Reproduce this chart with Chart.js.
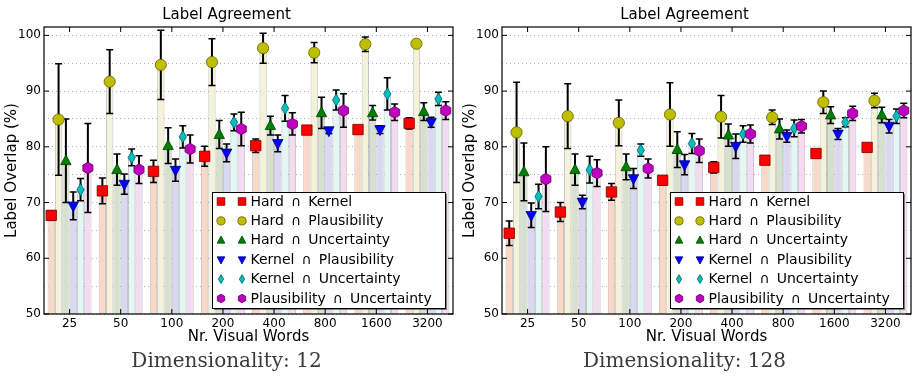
<!DOCTYPE html>
<html>
<head>
<meta charset="utf-8">
<script src="https://cdn.jsdelivr.net/npm/chart.js@4.4.0/dist/chart.umd.min.js"></script>
<style>
  html, body { margin: 0; padding: 0; background: #fff; }
  #wrap { display: flex; width: 916px; height: 379px; }
  .panel { position: relative; width: 458px; height: 379px; }
</style>
</head>
<body>
<div id="wrap">
  <div class="panel"><canvas id="c12"></canvas></div>
  <div class="panel"><canvas id="c128"></canvas></div>
</div>
<script>
// categories / tick labels
const categories = ['25', '50', '100', '200', '400', '800', '1600', '3200'];
const seriesNames = [
  'Hard\u2002\u2229\u2002Kernel',
  'Hard\u2002\u2229\u2002Plausibility',
  'Hard\u2002\u2229\u2002Uncertainty',
  'Kernel\u2002\u2229\u2002Plausibility',
  'Kernel\u2002\u2229\u2002Uncertainty',
  'Plausibility\u2002\u2229\u2002Uncertainty'
];
const yTicks = [50, 55, 60, 65, 70, 75, 80, 85, 90, 95, 100];

// Dimensionality 12 : means and errors
const hardKernel12 = [67.7, 72.1, 75.6, 78.3, 80.2, 83.0, 83.1, 84.2];
const hardKernel12Err = [0.8, 2.3, 2.0, 1.8, 1.2, 0.6, 0.0, 1.0];
const hardPlaus12 = [84.9, 91.7, 94.7, 95.2, 97.7, 96.9, 98.4, 98.5];
const hardPlaus12Err = [10.0, 5.7, 6.2, 4.2, 2.7, 1.8, 1.3, 0.6];
const hardUnc12 = [77.5, 75.9, 80.2, 82.2, 83.8, 86.1, 86.1, 86.3];
const hardUnc12Err = [7.5, 2.8, 3.2, 2.5, 1.7, 2.8, 1.3, 1.6];
const kernelPlaus12 = [69.4, 73.3, 75.8, 78.9, 80.6, 82.9, 83.1, 84.4];
const kernelPlaus12Err = [2.5, 1.8, 2.0, 1.6, 1.5, 0.5, 0.7, 0.9];
const kernelUnc12 = [72.3, 78.1, 81.8, 84.4, 86.9, 88.4, 89.5, 88.6];
const kernelUnc12Err = [2.0, 1.5, 2.0, 1.5, 2.3, 1.8, 2.9, 1.2];
const plausUnc12 = [76.2, 75.9, 79.6, 83.2, 84.1, 86.5, 86.2, 86.5];
const plausUnc12Err = [8.0, 2.5, 2.5, 3.0, 2.0, 3.0, 1.5, 1.6];

// Dimensionality 128 : means and errors
const hardKernel128 = [64.5, 68.3, 71.9, 74.0, 76.3, 77.6, 78.8, 79.9];
const hardKernel128Err = [2.2, 1.7, 1.5, 0.8, 1.0, 0.5, 0.6, 0.6];
const hardPlaus128 = [82.6, 85.5, 84.3, 85.8, 85.4, 85.3, 88.0, 88.3];
const hardPlaus128Err = [9.0, 5.8, 4.1, 5.7, 3.8, 1.3, 2.0, 1.3];
const hardUnc128 = [75.5, 75.9, 76.4, 79.5, 82.1, 83.2, 85.7, 85.7];
const hardUnc128Err = [5.2, 2.8, 2.3, 3.2, 2.0, 1.8, 1.5, 1.4];
const kernelPlaus128 = [67.7, 70.1, 74.3, 76.8, 80.1, 81.9, 82.3, 83.7];
const kernelPlaus128Err = [2.2, 1.2, 1.8, 1.8, 2.2, 1.1, 1.0, 1.2];
const kernelUnc128 = [71.1, 75.9, 79.4, 80.6, 82.3, 83.3, 84.4, 85.5];
const kernelUnc128Err = [2.2, 2.4, 1.1, 1.8, 1.5, 1.5, 0.8, 1.3];
const plausUnc128 = [74.2, 75.3, 76.1, 79.3, 82.3, 83.7, 86.0, 86.5];
const plausUnc128Err = [5.8, 2.4, 1.7, 2.1, 1.6, 1.2, 1.3, 1.3];

const barColors = ['#fbd8c6', '#f4f3da', '#d6e0cf', '#d9d8f3', '#e3f7f5', '#f3dcf1'];
const markerColors = ['#ff0000', '#bfbf00', '#008000', '#0000ff', '#00bfbf', '#bf00bf'];
const markerEdges = ['#7a0000', '#5f5f00', '#004000', '#00007a', '#005f5f', '#5f005f'];
const markerShapes = ['square', 'circle', 'triangle', 'triangleDown', 'diamond', 'hexagon'];

const FONT = 'DejaVu Sans';

function drawMarker(ctx, shape, x, y, s, fill, edge) {
  ctx.save();
  ctx.beginPath();
  if (shape === 'square') {
    ctx.rect(x - s, y - s, 2 * s, 2 * s);
  } else if (shape === 'circle') {
    ctx.arc(x, y, s * 1.08, 0, Math.PI * 2);
  } else if (shape === 'triangle') {
    ctx.moveTo(x, y - s * 1.15);
    ctx.lineTo(x + s, y + s * 0.75);
    ctx.lineTo(x - s, y + s * 0.75);
    ctx.closePath();
  } else if (shape === 'triangleDown') {
    ctx.moveTo(x, y + s * 1.15);
    ctx.lineTo(x + s, y - s * 0.75);
    ctx.lineTo(x - s, y - s * 0.75);
    ctx.closePath();
  } else if (shape === 'diamond') {
    ctx.moveTo(x, y - s * 1.15);
    ctx.lineTo(x + s * 0.7, y);
    ctx.lineTo(x, y + s * 1.15);
    ctx.lineTo(x - s * 0.7, y);
    ctx.closePath();
  } else if (shape === 'hexagon') {
    for (let k = 0; k < 6; k++) {
      const a = -Math.PI / 2 + k * Math.PI / 3;
      const px = x + s * 1.12 * Math.cos(a), py = y + s * 1.12 * Math.sin(a);
      if (k === 0) ctx.moveTo(px, py); else ctx.lineTo(px, py);
    }
    ctx.closePath();
  }
  ctx.fillStyle = fill;
  ctx.fill();
  ctx.lineWidth = 0.8;
  ctx.strokeStyle = edge;
  ctx.stroke();
  ctx.restore();
}

const overlayPlugin = {
  id: 'overlay',
  afterDatasetsDraw(chart) {
    const ctx = chart.ctx;
    const y = chart.scales.y;
    const x = chart.scales.x;
    const area = chart.chartArea;

    // error bars
    chart.data.datasets.forEach((ds, i) => {
      const meta = chart.getDatasetMeta(i);
      meta.data.forEach((bar, j) => {
        const v = ds.data[j], e = ds.errors[j];
        if (!e) return;
        const top = y.getPixelForValue(v + e), bot = y.getPixelForValue(v - e);
        ctx.save();
        ctx.strokeStyle = '#000';
        ctx.lineWidth = 2;
        ctx.beginPath();
        ctx.moveTo(bar.x, top); ctx.lineTo(bar.x, bot);
        ctx.stroke();
        ctx.lineWidth = 1.5;
        ctx.beginPath();
        ctx.moveTo(bar.x - 3.5, top); ctx.lineTo(bar.x + 3.5, top);
        ctx.moveTo(bar.x - 3.5, bot); ctx.lineTo(bar.x + 3.5, bot);
        ctx.stroke();
        ctx.restore();
      });
    });
    // markers
    chart.data.datasets.forEach((ds, i) => {
      const meta = chart.getDatasetMeta(i);
      meta.data.forEach((bar, j) => {
        drawMarker(ctx, markerShapes[i], bar.x, y.getPixelForValue(ds.data[j]), 5.2, markerColors[i], markerEdges[i]);
      });
    });

    // frame and inward ticks
    ctx.save();
    ctx.strokeStyle = '#000';
    ctx.lineWidth = 1.2;
    ctx.strokeRect(area.left, area.top, area.right - area.left, area.bottom - area.top);
    ctx.lineWidth = 1;
    ctx.beginPath();
    yTicks.forEach(t => {
      const py = y.getPixelForValue(t);
      const len = t % 10 === 0 ? 5 : 0;
      ctx.moveTo(area.left, py); ctx.lineTo(area.left + len, py);
      ctx.moveTo(area.right, py); ctx.lineTo(area.right - len, py);
    });
    categories.forEach((c, j) => {
      const px = x.getPixelForValue(j);
      ctx.moveTo(px, area.top); ctx.lineTo(px, area.top + 5);
      ctx.moveTo(px, area.bottom); ctx.lineTo(px, area.bottom - 5);
    });
    ctx.stroke();
    ctx.restore();
  },
  afterDraw(chart) {
    const ctx = chart.ctx;
    const area = chart.chartArea;
    const w = 233, h = 116;
    const right = area.right - 8, bottom = area.bottom - 6;
    const left = right - w, top = bottom - h;
    ctx.save();
    ctx.fillStyle = 'rgba(0,0,0,0.45)';
    ctx.fillRect(left + 2, top + 2, w, h);
    ctx.fillStyle = '#fff';
    ctx.fillRect(left, top, w, h);
    ctx.strokeStyle = '#000';
    ctx.lineWidth = 1;
    ctx.strokeRect(left + 0.5, top + 0.5, w, h);
    ctx.font = '14px "' + FONT + '"';
    ctx.textBaseline = 'middle';
    ctx.fillStyle = '#000';
    chart.data.datasets.forEach((ds, i) => {
      const cy = top + 9.5 + i * 19.4;
      drawMarker(ctx, markerShapes[i], left + 9, cy, 3.8, markerColors[i], markerEdges[i]);
      drawMarker(ctx, markerShapes[i], left + 30, cy, 3.8, markerColors[i], markerEdges[i]);
      ctx.fillText(ds.label, left + 38.5, cy + 0.5);
    });
    ctx.restore();
  }
};

function makePanel(id, means, errs, subtitle) {
  new Chart(document.getElementById(id), {
    type: 'bar',
    data: {
      labels: categories,
      datasets: means.map((m, i) => ({
        label: seriesNames[i],
        data: m,
        errors: errs[i],
        backgroundColor: barColors[i],
        borderColor: 'rgba(140,140,140,0.5)',
        borderWidth: 1,
        borderSkipped: 'bottom'
      }))
    },
    options: {
      responsive: true,
      maintainAspectRatio: false,
      animation: false,
      datasets: { bar: { categoryPercentage: 0.86, barPercentage: 1.0 } },
      layout: { padding: { left: 0, right: 5, top: 0, bottom: 0 } },
      plugins: {
        legend: { display: false },
        tooltip: { enabled: false },
        title: {
          display: true,
          text: 'Label Agreement',
          color: '#000',
          font: { family: FONT, size: 15, weight: 'normal' },
          padding: { top: 6, bottom: 3 }
        },
        subtitle: {
          display: true,
          position: 'bottom',
          text: subtitle,
          color: '#3a3a3a',
          font: { family: 'DejaVu Serif', size: 20, weight: 'normal' },
          padding: { top: 0, bottom: 5 }
        }
      },
      scales: {
        x: {
          grid: { display: false, drawTicks: false },
          border: { display: false },
          ticks: { color: '#000', font: { family: FONT, size: 12 }, padding: 3, maxRotation: 0 },
          title: {
            display: true, text: 'Nr. Visual Words', color: '#000',
            font: { family: FONT, size: 15 }, padding: { top: 0, bottom: 4 }
          },
          afterFit: s => { s.height = 36; }
        },
        y: {
          min: 50,
          max: 101.5,
          afterBuildTicks: s => { s.ticks = yTicks.map(v => ({ value: v })); },
          grid: { color: 'rgba(0,0,0,0.3)', lineWidth: 1, drawTicks: false },
          border: { display: false, dash: [1, 3] },
          ticks: {
            color: '#000', font: { family: FONT, size: 12 }, padding: 3,
            callback: v => (v % 10 === 0 ? String(v) : '')
          },
          title: {
            display: true, text: 'Label Overlap (%)', color: '#000',
            font: { family: FONT, size: 15 }, padding: { top: 3, bottom: 0 }
          },
          afterFit: s => { s.width = 44; }
        }
      }
    },
    plugins: [overlayPlugin]
  });
}

makePanel('c12',
  [hardKernel12, hardPlaus12, hardUnc12, kernelPlaus12, kernelUnc12, plausUnc12],
  [hardKernel12Err, hardPlaus12Err, hardUnc12Err, kernelPlaus12Err, kernelUnc12Err, plausUnc12Err],
  'Dimensionality: 12');
makePanel('c128',
  [hardKernel128, hardPlaus128, hardUnc128, kernelPlaus128, kernelUnc128, plausUnc128],
  [hardKernel128Err, hardPlaus128Err, hardUnc128Err, kernelPlaus128Err, kernelUnc128Err, plausUnc128Err],
  'Dimensionality: 128');
</script>
</body>
</html>
